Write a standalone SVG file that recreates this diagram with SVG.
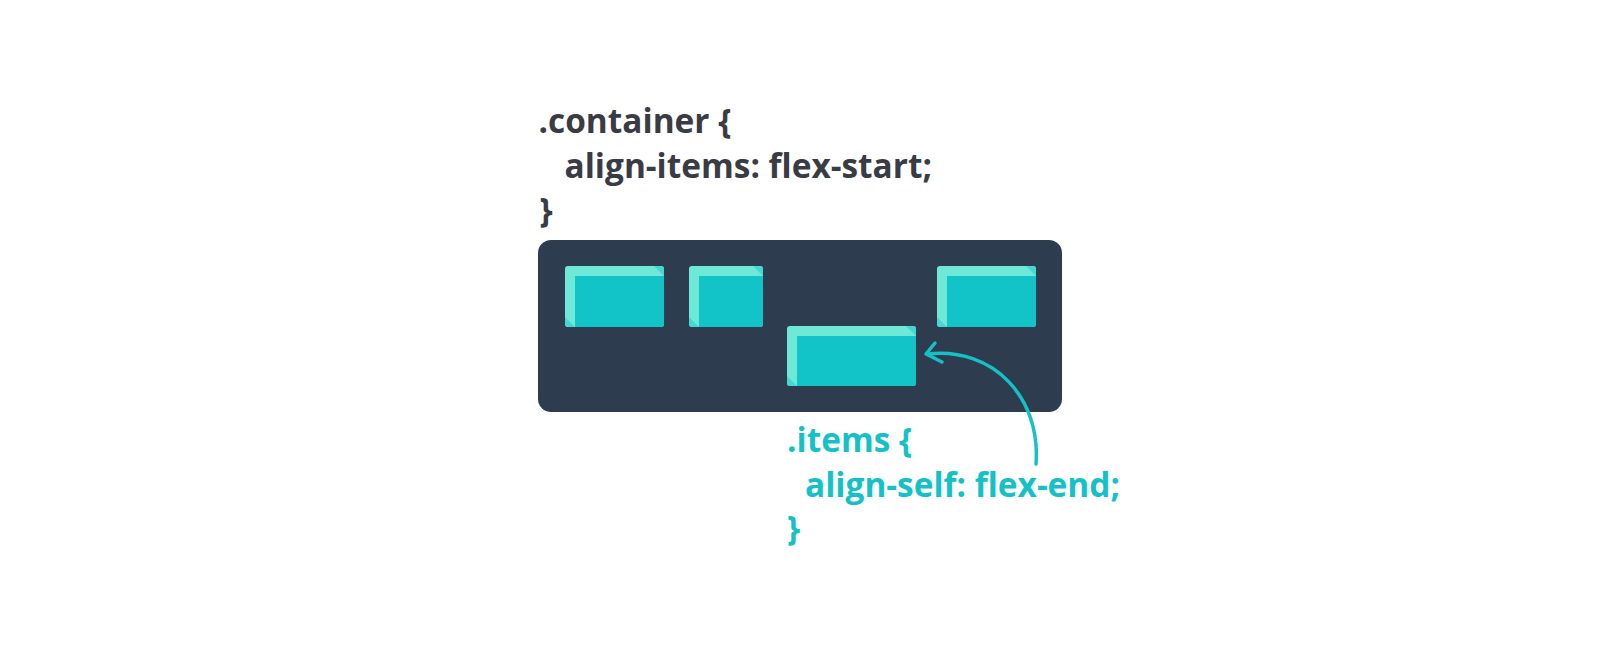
<svg xmlns="http://www.w3.org/2000/svg" width="1600" height="653" viewBox="0 0 1600 653">
  <style>
    .code { font-family: "Open Sans", "Noto Sans", "DejaVu Sans", sans-serif; font-weight: 700; font-size: 33.4px; }
    .dark { fill: #393b45; }
    .teal { fill: #14c1c6; }
    .light { fill: #6ee9d8; }
    .face { fill: #12c3c7; }
    .mid { fill: #45d8d0; }
    .conn { fill: none; stroke: #14c1c6; stroke-width: 3.5; stroke-linecap: round; stroke-linejoin: round; }
  </style>
  <defs>
    <clipPath id="r1"><rect x="565" y="266" width="99" height="61" rx="3"/></clipPath>
    <clipPath id="r2"><rect x="689" y="266" width="74" height="61" rx="3"/></clipPath>
    <clipPath id="r3"><rect x="787" y="326" width="129" height="60" rx="3"/></clipPath>
    <clipPath id="r4"><rect x="937" y="266" width="99" height="61" rx="3"/></clipPath>
  </defs>
  <rect width="1600" height="653" fill="#ffffff"/>

  <g id="container-code">
    <text class="code dark" x="538.5" y="133">.container {</text>
    <text class="code dark" x="564.5" y="178">align-items: flex-start;</text>
    <text class="code dark" x="539.5" y="222">}</text>
  </g>

  <g id="container">
    <rect x="538" y="240" width="524" height="172" rx="13" fill="#2d3d4f"/>
  </g>

  <g id="item1" clip-path="url(#r1)">
    <rect class="light" x="565" y="266" width="99" height="61"/>
    <polygon class="mid" points="654,266 664,266 664,276"/>
    <polygon class="mid" points="565,317 565,327 575,327"/>
    <rect class="face" x="575" y="276" width="89" height="51"/>
  </g>
  <g id="item2" clip-path="url(#r2)">
    <rect class="light" x="689" y="266" width="74" height="61"/>
    <polygon class="mid" points="753,266 763,266 763,276"/>
    <polygon class="mid" points="689,317 689,327 699,327"/>
    <rect class="face" x="699" y="276" width="64" height="51"/>
  </g>
  <g id="item3" clip-path="url(#r3)">
    <rect class="light" x="787" y="326" width="129" height="60"/>
    <polygon class="mid" points="906,326 916,326 916,336"/>
    <polygon class="mid" points="787,376 787,386 797,386"/>
    <rect class="face" x="797" y="336" width="119" height="50"/>
  </g>
  <g id="item4" clip-path="url(#r4)">
    <rect class="light" x="937" y="266" width="99" height="61"/>
    <polygon class="mid" points="1026,266 1036,266 1036,276"/>
    <polygon class="mid" points="937,317 937,327 947,327"/>
    <rect class="face" x="947" y="276" width="89" height="51"/>
  </g>

  <g id="connectors">
    <path class="conn" d="M1036,464 C1041,398 994,347 928,354"/>
    <polyline class="conn" points="935,343 926,354 942,362"/>
  </g>

  <g id="items-code">
    <text class="code teal" x="787" y="452">.items {</text>
    <text class="code teal" x="805" y="497">align-self: flex-end;</text>
    <text class="code teal" x="787" y="540">}</text>
  </g>
</svg>
